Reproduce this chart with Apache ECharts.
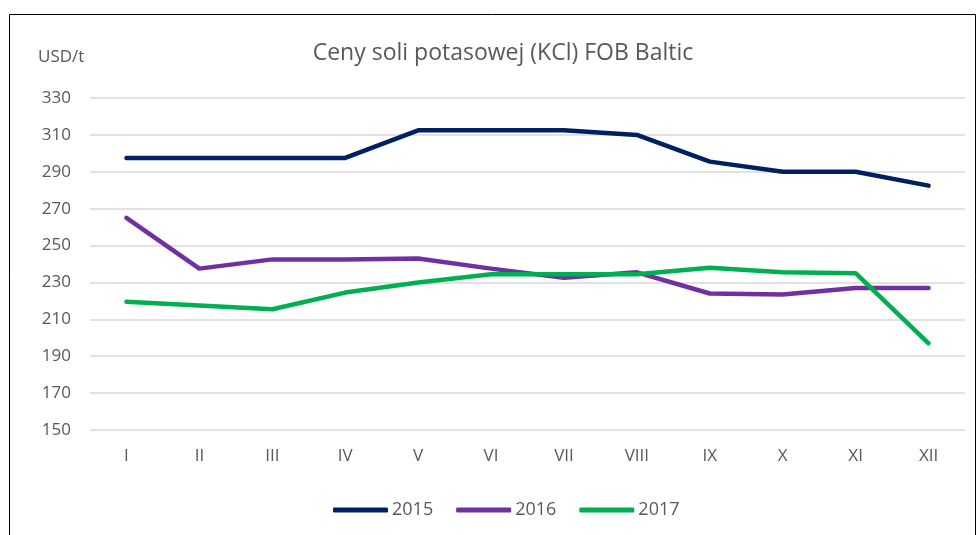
<!DOCTYPE html>
<html>
<head>
<meta charset="utf-8">
<script src="https://cdn.jsdelivr.net/npm/echarts@6/dist/echarts.min.js"></script>
<style>
  html, body { margin: 0; padding: 0; background: #fff; }
  #main { width: 977px; height: 535px; }
</style>
</head>
<body>
<div id="main"></div>
<script>
// dane
var months = ['I', 'II', 'III', 'IV', 'V', 'VI', 'VII', 'VIII', 'IX', 'X', 'XI', 'XII'];
var y2015 = [297.5, 297.5, 297.5, 297.5, 312.5, 312.5, 312.5, 310, 295.5, 290, 290, 282.5];
var y2016 = [265, 237.5, 242.5, 242.5, 243, 237.5, 232.5, 235.5, 224, 223.5, 227, 227];
var y2017 = [219.5, 217.5, 215.5, 224.5, 230, 234.5, 234.5, 234.5, 238, 235.5, 235, 197];
var seriesNames = ['2015', '2016', '2017'];
var colors = ['#002060', '#7030A0', '#00B050'];

var font = 'Open Sans';
var myChart = echarts.init(document.getElementById('main'));

var option = {
  backgroundColor: '#fff',
  animation: false,
  title: {
    text: 'Ceny soli potasowej (KCl) FOB Baltic',
    left: 498,
    top: 37,
    textAlign: 'center',
    textStyle: { fontFamily: font, fontSize: 23, fontWeight: 'normal', color: '#595959' }
  },
  graphic: [
    {
      type: 'polyline',
      shape: { points: [[9.5, 540], [9.5, 14.5], [975.5, 14.5], [975.5, 540]] },
      style: { stroke: '#000', lineWidth: 1, fill: null }
    }
  ],
  legend: {
    data: seriesNames,
    top: 496,
    left: 328,
    icon: 'roundRect',
    itemWidth: 55,
    itemHeight: 5,
    itemGap: 23,
    textStyle: { fontFamily: font, fontSize: 18, color: '#595959', padding: [0, 0, 0, -1] }
  },
  grid: { left: 90, right: 12, top: 98, bottom: 105 },
  xAxis: {
    type: 'category',
    data: months,
    axisLine: { show: false },
    axisTick: { show: false },
    axisLabel: { fontFamily: font, fontSize: 17, color: '#595959', margin: 18 }
  },
  yAxis: {
    type: 'value',
    name: 'USD/t',
    nameLocation: 'end',
    nameGap: 32,
    nameTextStyle: { fontFamily: font, fontSize: 17, color: '#595959', align: 'left', padding: [0, 0, 0, -52] },
    min: 150,
    max: 330,
    interval: 20,
    axisLine: { show: false },
    axisTick: { show: false },
    axisLabel: { fontFamily: font, fontSize: 17, color: '#595959', margin: 19 },
    splitLine: { lineStyle: { color: '#d9d9d9', width: 1.5 } }
  },
  series: [
    { name: seriesNames[0], type: 'line', data: y2015, color: colors[0], symbol: 'none',
      lineStyle: { width: 4.5, cap: 'round', join: 'round' } },
    { name: seriesNames[1], type: 'line', data: y2016, color: colors[1], symbol: 'none',
      lineStyle: { width: 4.5, cap: 'round', join: 'round' } },
    { name: seriesNames[2], type: 'line', data: y2017, color: colors[2], symbol: 'none',
      lineStyle: { width: 4.5, cap: 'round', join: 'round' } }
  ]
};

myChart.setOption(option);
</script>
</body>
</html>
